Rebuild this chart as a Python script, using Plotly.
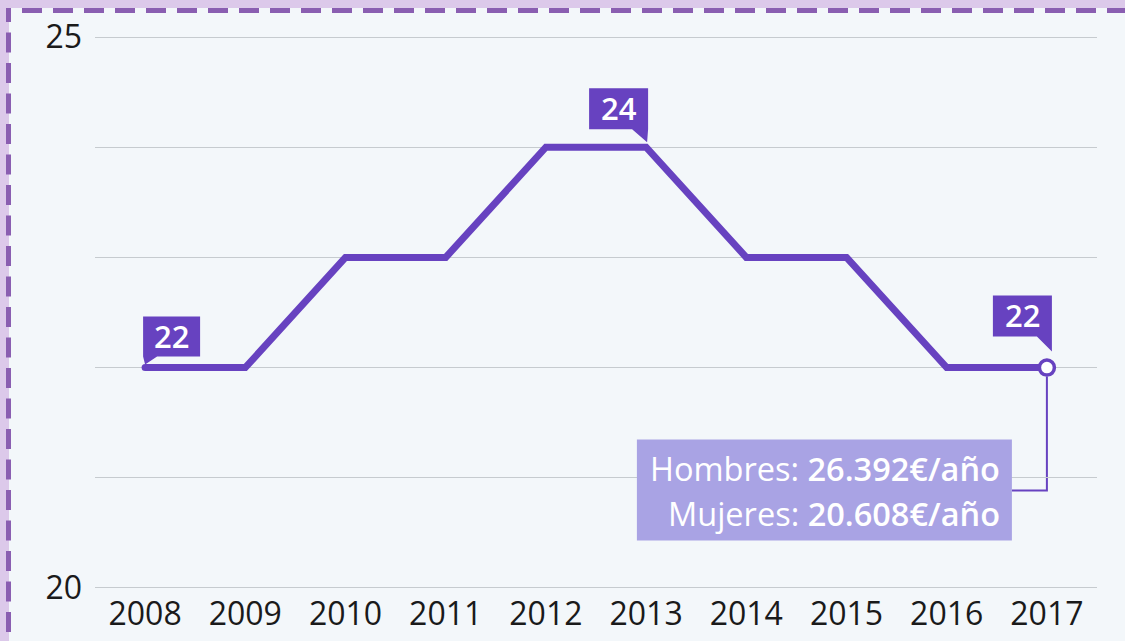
import plotly.graph_objects as go

# ---- data ----
years = [2008, 2009, 2010, 2011, 2012, 2013, 2014, 2015, 2016, 2017]
values = [22, 22, 23, 23, 24, 24, 23, 23, 22, 22]
y_tickvals = [20, 21, 22, 23, 24, 25]
y_ticktext = ["20", "", "", "", "", "25"]
labeled_idx = [0, 5, 9]
note_lines = ['Hombres: <span style="font-weight:600">26.392€/año</span>',
              'Mujeres: <span style="font-weight:600">20.608€/año</span>']

# ---- style ----
PURPLE = "#6742c0"
LAVENDER_BOX = "#a9a3e4"
BG = "#f3f7fa"
FONT = "Open Sans"

W, H = 1125, 641
L, R, T, B = 95, 28, 26, 42
PW, PH = W - L - R, H - T - B


def px(xp):
    return (xp - L) / PW


def py(yp):
    return (H - B - yp) / PH


fig = go.Figure()

fig.add_trace(go.Scatter(
    x=years, y=values, mode="lines",
    line=dict(color=PURPLE, width=7),
    hoverinfo="skip", showlegend=False,
))
# start dot and end ring
fig.add_trace(go.Scatter(
    x=[years[0]], y=[values[0]], mode="markers",
    marker=dict(color=PURPLE, size=7),
    hoverinfo="skip", showlegend=False,
))
fig.add_trace(go.Scatter(
    x=[years[-1]], y=[values[-1]], mode="markers",
    marker=dict(color="white", size=15, line=dict(color=PURPLE, width=3.5)),
    hoverinfo="skip", showlegend=False, cliponaxis=False,
))

# label boxes (pixel geometry relative to the point, y up)
box_geom = {
    0: dict(x0=-2, x1=55, y0=11, y1=51, tail=[(-2, 11), (12, 11), (0, 3)]),
    5: dict(x0=-57, x1=2, y0=18, y1=59, tail=[(-14, 18), (2, 18), (1, 5)]),
    9: dict(x0=-54, x1=5, y0=31, y1=72, tail=[(-10, 31), (5, 31), (5, 16)]),
}

shapes = []
annotations = []
for i in labeled_idx:
    g = box_geom[i]
    path = (f"M{g['x0']},{g['y0']} L{g['x1']},{g['y0']} L{g['x1']},{g['y1']} "
            f"L{g['x0']},{g['y1']} Z "
            f"M{g['tail'][0][0]},{g['tail'][0][1]} L{g['tail'][1][0]},{g['tail'][1][1]} "
            f"L{g['tail'][2][0]},{g['tail'][2][1]} Z")
    shapes.append(dict(
        type="path", xref="x", yref="y", xsizemode="pixel", ysizemode="pixel",
        xanchor=years[i], yanchor=values[i], path=path,
        fillcolor=PURPLE, line=dict(width=0), layer="above",
    ))
    annotations.append(dict(
        x=years[i], y=values[i], xref="x", yref="y",
        xshift=(g["x0"] + g["x1"]) / 2, yshift=(g["y0"] + g["y1"]) / 2 + 1,
        text=str(values[i]), showarrow=False,
        font=dict(family=FONT, size=31, color="white", weight=600),
        xanchor="center", yanchor="middle",
    ))

# callout box + connector at last point
last_x, last_y = years[-1], values[-1]
shapes.append(dict(
    type="path", xref="x", yref="y", xsizemode="pixel", ysizemode="pixel",
    xanchor=last_x, yanchor=last_y, path="M0,-9 L0,-123 L-35,-123",
    line=dict(color=PURPLE, width=2), layer="below",
))
shapes.append(dict(
    type="rect", xref="x", yref="y", xsizemode="pixel", ysizemode="pixel",
    xanchor=last_x, yanchor=last_y, x0=-410, x1=-35, y0=-72, y1=-173,
    fillcolor=LAVENDER_BOX, line=dict(width=0), layer="above",
))
for k, line in enumerate(note_lines):
    annotations.append(dict(
        x=last_x, y=last_y, xref="x", yref="y",
        xshift=-45, yshift=-101 - 45 * k,
        text=line, showarrow=False, align="right",
        font=dict(family=FONT, size=32.5, color="white"),
        xanchor="right", yanchor="middle",
    ))

# frame: lavender strips + dashed border
FRAME_BG = "#dcc9ea"
DASH = "#8a5eb1"
shapes += [
    dict(type="rect", xref="paper", yref="paper", x0=px(-2), x1=px(9), y0=py(-2), y1=py(H + 2),
         fillcolor=FRAME_BG, line=dict(width=0), layer="above"),
    dict(type="line", xref="paper", yref="paper", x0=px(8.5), x1=px(8.5), y0=py(2), y1=py(H + 5),
         line=dict(color=DASH, width=5, dash="20px,10.5px"), layer="above"),
    dict(type="rect", xref="paper", yref="paper", x0=px(-2), x1=px(W + 2), y0=py(-2), y1=py(8),
         fillcolor=FRAME_BG, line=dict(width=0), layer="above"),
    dict(type="line", xref="paper", yref="paper", x0=px(22), x1=px(W + 5), y0=py(10.5), y1=py(10.5),
         line=dict(color=DASH, width=5, dash="20px,11px"), layer="above"),
]

fig.update_layout(
    width=W, height=H,
    margin=dict(l=L, r=R, t=T, b=B, pad=0, autoexpand=False),
    paper_bgcolor=BG, plot_bgcolor=BG,
    font=dict(family=FONT, color="#1a1a1a"),
    shapes=shapes, annotations=annotations,
    showlegend=False,
    xaxis=dict(
        range=[years[0] - 0.5, years[-1] + 0.5],
        tickvals=years, ticktext=[str(y) for y in years],
        showgrid=False, zeroline=False, showline=False,
        tickfont=dict(size=32, color="#1a1a1a"),
        ticks="", ticklabelstandoff=-7, automargin=False,
        fixedrange=True,
    ),
    yaxis=dict(
        range=[19.9, 25.1],
        tickvals=y_tickvals, ticktext=y_ticktext,
        showgrid=True, gridcolor="#c6cbcf", gridwidth=1.3,
        zeroline=False, showline=False, ticks="",
        tickfont=dict(size=32, color="#1a1a1a"),
        ticklabelstandoff=12, automargin=False,
        fixedrange=True,
    ),
)

fig.write_html("out.html", post_script="document.body.style.margin='0';",
               config={"displayModeBar": False})
